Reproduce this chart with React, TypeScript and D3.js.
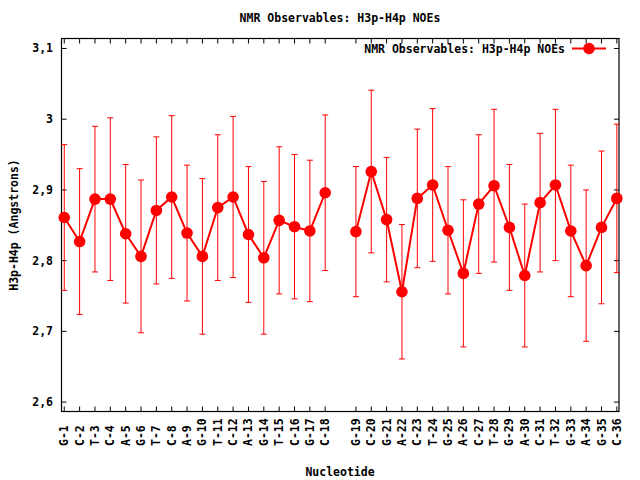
import React from "react";
import * as d3 from "d3";

// nucleotide labels along the x axis
const nucleotides = [
  "G-1", "C-2", "T-3", "C-4", "A-5", "G-6", "T-7", "C-8", "A-9", "G-10",
  "T-11", "C-12", "A-13", "G-14", "T-15", "C-16", "G-17", "C-18",
  "G-19", "C-20", "G-21", "A-22", "C-23", "T-24", "G-25", "A-26", "C-27",
  "T-28", "G-29", "A-30", "C-31", "T-32", "G-33", "A-34", "G-35", "C-36",
];
// x positions (slot 19 is left empty between the two strands)
const positions = [
  1, 2, 3, 4, 5, 6, 7, 8, 9, 10, 11, 12, 13, 14, 15, 16, 17, 18,
  20, 21, 22, 23, 24, 25, 26, 27, 28, 29, 30, 31, 32, 33, 34, 35, 36, 37,
];
// mean H3p-H4p distance
const distances = [
  2.861, 2.827, 2.887, 2.887, 2.838, 2.806, 2.871, 2.890, 2.839, 2.806,
  2.875, 2.890, 2.837, 2.804, 2.857, 2.848, 2.842, 2.896,
  2.841, 2.926, 2.858, 2.756, 2.888, 2.907, 2.843, 2.782, 2.880,
  2.906, 2.847, 2.779, 2.882, 2.907, 2.842, 2.793, 2.847, 2.888,
];
// error bar half-widths
const errors = [
  0.103, 0.103, 0.103, 0.115, 0.098, 0.108, 0.104, 0.115, 0.096, 0.110,
  0.103, 0.114, 0.096, 0.108, 0.104, 0.102, 0.100, 0.110,
  0.092, 0.115, 0.088, 0.095, 0.098, 0.108, 0.090, 0.104, 0.098,
  0.108, 0.089, 0.101, 0.098, 0.107, 0.093, 0.107, 0.108, 0.105,
];
const yTicks = [2.6, 2.7, 2.8, 2.9, 3.0, 3.1];

const title = "NMR Observables: H3p-H4p NOEs";
const font = "'DejaVu Sans Mono', 'Liberation Mono', monospace";

const W = 640;
const H = 480;
const left = 61.5;
const right = 619;
const top = 38.5;
const bottom = 411.5;

export default function App() {
  const x = d3.scaleLinear().domain([0.82, 37.14]).range([left, right]);
  const y = d3.scaleLinear().domain([2.5867, 3.1141]).range([bottom, top]);
  const red = "#ff0000";

  const pts = positions.map((p, i) => ({
    x: x(p),
    y: y(distances[i]),
    lo: y(distances[i] - errors[i]),
    hi: y(distances[i] + errors[i]),
    label: nucleotides[i],
  }));
  const line = d3
    .line<{ x: number; y: number }>()
    .x((d) => d.x)
    .y((d) => d.y);
  // break the line at the gap
  const first = pts.slice(0, 18);
  const second = pts.slice(18);
  const fmt = (v: number) => d3.format("~g")(+v.toFixed(1)).replace(".", ",");

  const legY = 48.5;

  return (
    <svg
      width={W}
      height={H}
      style={{ position: "absolute", left: 0, top: 0, background: "#fff" }}
      fontFamily={font}
      fontWeight="bold"
      fontSize={11.5}
    >
      <rect width={W} height={H} fill="#fff" />
      <text x={340} y={22} textAnchor="middle">
        {title}
      </text>

      {/* frame */}
      <rect
        x={left}
        y={top}
        width={right - left}
        height={bottom - top}
        fill="none"
        stroke="#000"
        strokeWidth={1.2}
      />
      {yTicks.map((t) => (
        <g key={t}>
          <line x1={left} x2={left + 5} y1={y(t)} y2={y(t)} stroke="#000" />
          <line x1={right} x2={right - 5} y1={y(t)} y2={y(t)} stroke="#000" />
          <text x={53} y={y(t)} dy="0.35em" textAnchor="end">
            {fmt(t)}
          </text>
        </g>
      ))}
      {pts.map((d) => (
        <g key={d.label}>
          <line x1={d.x} x2={d.x} y1={bottom} y2={bottom - 5} stroke="#000" />
          <line x1={d.x} x2={d.x} y1={top} y2={top + 5} stroke="#000" />
          <text
            transform={`translate(${d.x},446) rotate(-90)`}
            dy="0.35em"
            textAnchor="start"
          >
            {d.label}
          </text>
        </g>
      ))}
      <text
        transform={`translate(14,225) rotate(-90)`}
        dy="0.35em"
        textAnchor="middle"
      >
        H3p-H4p (Angstrons)
      </text>
      <text x={340} y={476} textAnchor="middle">
        Nucleotide
      </text>

      {/* error bars */}
      {pts.map((d) => (
        <g key={"e" + d.label} stroke={red} strokeWidth={1}>
          <line x1={d.x} x2={d.x} y1={d.lo} y2={d.hi} />
          <line x1={d.x - 3} x2={d.x + 3} y1={d.lo} y2={d.lo} />
          <line x1={d.x - 3} x2={d.x + 3} y1={d.hi} y2={d.hi} />
        </g>
      ))}
      <path d={line(first) ?? ""} fill="none" stroke={red} strokeWidth={2} />
      <path d={line(second) ?? ""} fill="none" stroke={red} strokeWidth={2} />
      {pts.map((d) => (
        <circle key={"c" + d.label} cx={d.x} cy={d.y} r={5.8} fill={red} />
      ))}

      {/* legend */}
      <text x={565} y={legY} dy="0.35em" textAnchor="end">
        {title}
      </text>
      <line x1={572} x2={606} y1={legY} y2={legY} stroke={red} strokeWidth={2} />
      <circle cx={589} cy={legY} r={5.8} fill={red} />
    </svg>
  );
}
